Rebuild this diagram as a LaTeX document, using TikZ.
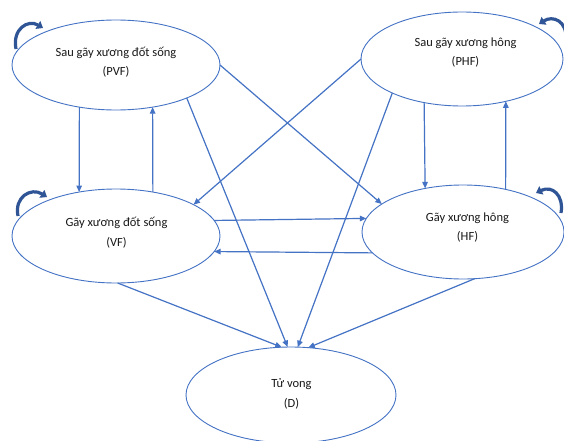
\documentclass[tikz,border=0pt]{standalone}
\usepackage{fontspec}
\setmainfont{Carlito}
\usetikzlibrary{shapes.geometric,arrows.meta,calc}
\definecolor{lineblue}{RGB}{68,114,196}
\definecolor{loopblue}{RGB}{47,85,151}
\definecolor{txt}{RGB}{25,25,25}
\begin{document}
\begin{tikzpicture}[x=1pt,y=-1pt,
  st/.style={ellipse,draw=lineblue,line width=0.9pt,inner sep=0pt,outer sep=0pt},
  lbl/.style={align=center,font=\fontsize{12.5}{19.5}\selectfont,text=txt,inner sep=0pt},
  conn/.style={draw=lineblue,line width=1.2pt,-{Triangle[length=6.5pt,width=5.5pt]}},
  selfloop/.style={draw=loopblue,line width=3.2pt,-{Triangle[length=6pt,width=9pt]}}]
\useasboundingbox (0,0) rectangle (564,441);
\fill[white] (0,0) rectangle (564,441);
% states
\node[st,minimum width=208pt,minimum height=90pt] (pvf) at (116,65) {};
\node[st,minimum width=202pt,minimum height=94pt] (phf) at (462,59) {};
\node[st,minimum width=208pt,minimum height=94pt] (vf) at (116,236) {};
\node[st,minimum width=202pt,minimum height=94pt] (hf) at (463,232) {};
\node[st,minimum width=210pt,minimum height=96pt] (d) at (291,395) {};
% labels
\node[lbl] (pvft) at (116,62) {Sau gãy xương đốt sống\\(PVF)};
\node[lbl] (phft) at (465.5,52.5) {Sau gãy xương hông\\(PHF)};
\node[lbl] (vft) at (116.5,232.5) {Gãy xương đốt sống\\(VF)};
\node[lbl] (hft) at (467.5,227.5) {Gãy xương hông\\(HF)};
\node[lbl] (dt) at (291.5,394) {Tử vong\\(D)};
% connectors
\draw[conn] (pvf.-131.3) -- (vf.130.1);
\draw[conn] (vf.50.8) -- (pvf.-49.5);
\draw[conn] (phf.-131.1) -- (hf.131.9);
\draw[conn] (hf.45.5) -- (phf.-44.7);
\draw[conn] (vf.9.9) -- (hf.172.4);
\draw[conn] (hf.193.1) -- (vf.-9.9);
\draw[conn] (pvf.east) -- (hf.161);
\draw[conn] (phf.west) -- (vf.22);
\draw[conn] (pvf.-25.6) -- (d.94);
\draw[conn] (phf.-154.7) -- (d.82);
\draw[conn] (vf.-88) -- (d.101.8);
\draw[conn] (hf.-76.6) -- (d.70.5);
% self loops
\draw[selfloop] ($(pvf.center)+(-100,-16)$) .. controls ($(pvf.center)+(-104,-36)$) and ($(pvf.center)+(-88,-46)$) .. ($(pvf.center)+(-73,-37)$);
\draw[selfloop] ($(vf.center)+(-98,-20)$) .. controls ($(vf.center)+(-102,-39)$) and ($(vf.center)+(-85,-49)$) .. ($(vf.center)+(-69,-39)$);
\draw[selfloop] ($(hf.center)+(98,-19)$) .. controls ($(hf.center)+(101,-37)$) and ($(hf.center)+(89,-47)$) .. ($(hf.center)+(73,-39)$);
\draw[selfloop] ($(phf.center)+(104,-20)$) .. controls ($(phf.center)+(105,-38)$) and ($(phf.center)+(91,-44)$) .. ($(phf.center)+(77,-35)$);
\end{tikzpicture}
\end{document}
